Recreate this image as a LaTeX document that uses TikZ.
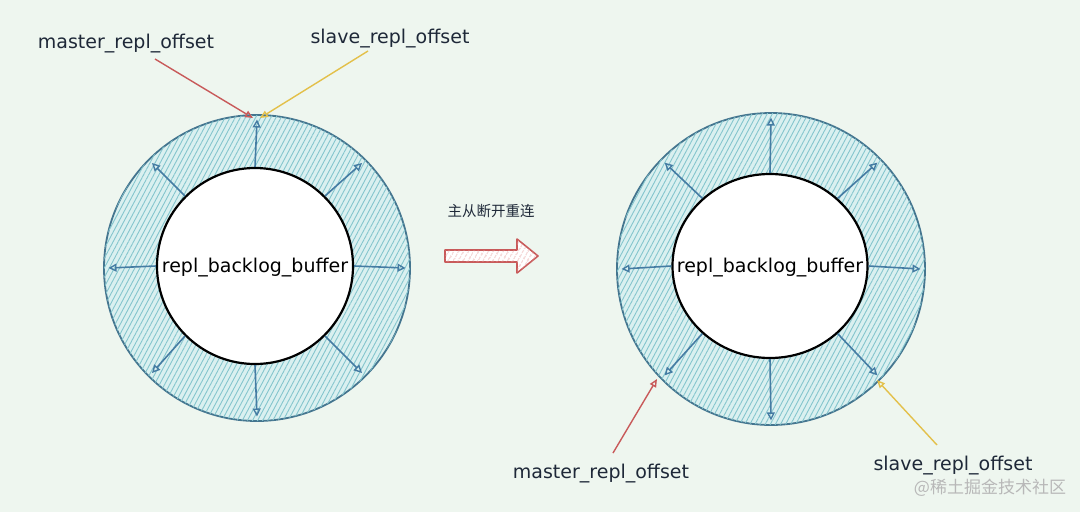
\documentclass[tikz,border=0pt]{standalone}
\usepackage{fontspec}
\setmainfont{DejaVu Sans}
\newfontfamily\cjk{Noto Sans CJK SC}
\usetikzlibrary{arrows.meta,patterns.meta,shapes.geometric,calc}
\definecolor{bg}{HTML}{EEF6EF}
\definecolor{ringbg}{HTML}{DAF0F0}
\definecolor{hatchc}{HTML}{84C5CD}
\definecolor{ringc}{HTML}{44758F}
\definecolor{barrc}{HTML}{457CA3}
\definecolor{txtc}{HTML}{1E2838}
\definecolor{redc}{HTML}{C85A5A}
\definecolor{yelc}{HTML}{E3C04A}
\definecolor{pinkh}{HTML}{E89A9A}
\definecolor{wmc}{HTML}{B8B8B8}
\begin{document}
\begin{tikzpicture}[x=1pt,y=-1pt,
  outring/.style={draw=ringc, line width=1.8pt, fill=ringbg, inner sep=0pt,
     postaction={pattern={Lines[angle=62,distance=4.5pt,line width=0.9pt]}, pattern color=hatchc}},
  inring/.style={draw=black, line width=2.2pt, fill=white, inner sep=0pt},
  barr/.style={draw=barrc, line width=1.6pt, -{Triangle[open,length=8pt,width=8pt,line width=1.4pt]}},
  redarr/.style={draw=redc, line width=1.4pt, -{Triangle[open,length=8pt,width=7pt]}},
  yelarr/.style={draw=yelc, line width=1.4pt, -{Triangle[open,length=8pt,width=7pt]}},
  lbl/.style={text=txtc, font=\fontsize{19}{22}\selectfont, inner sep=0pt},
  mid/.style={text=black, font=\fontsize{19}{22}\selectfont, inner sep=0pt},
  bigarr/.style={draw=redc, line width=1.6pt, line join=round, fill=white,
     postaction={pattern={Lines[angle=60,distance=4pt,line width=0.9pt]}, pattern color=pinkh}},
]
\fill[bg] (0,0) rectangle (1080,512);
\useasboundingbox (0,0) rectangle (1080,512);

% left ring
\node[outring, circle, minimum size=306pt] (outL) at (257,268) {};
\node[inring, circle, minimum size=196pt] (inL) at (255,266) {};
\node[mid] (tL) at (255,268) {repl\_backlog\_buffer};
\foreach \a in {0,45,...,315}{
  \coordinate (eL\a) at ($(outL.center)!0.965!(outL.\a)$);
  \draw[barr] (inL.\a) -- (eL\a);
}

% right ring
\node[outring, ellipse, minimum width=308pt, minimum height=312pt] (outR) at (771,269) {};
\node[inring, ellipse, minimum width=195pt, minimum height=184pt] (inR) at (770,266) {};
\node[mid] (tR) at (770,268) {repl\_backlog\_buffer};
\foreach \a in {0,45,...,315}{
  \coordinate (eR\a) at ($(outR.center)!0.965!(outR.\a)$);
  \draw[barr] (inR.\a) -- (eR\a);
}

% top labels and pointers
\node[lbl] (mTop) at (126,44) {master\_repl\_offset};
\node[lbl] (sTop) at (390,39) {slave\_repl\_offset};
\coordinate (mTs) at (155,59);
\coordinate (sTs) at (368,51);
\coordinate (mTe) at (253,118);
\coordinate (sTe) at (260,118);
\draw[redarr] (mTs) -- (mTe);
\draw[yelarr] (sTs) -- (sTe);

% transition arrow
\node[text=txtc, font=\cjk\fontsize{14.5}{17}\selectfont, inner sep=0pt] (cn) at (491,211) {主从断开重连};
\draw[bigarr] (445,250) -- (517,250) -- (517,239) -- (538,256) -- (517,273) -- (517,262) -- (445,262) -- cycle;

% bottom labels and pointers
\node[lbl] (mBot) at (601,474) {master\_repl\_offset};
\node[lbl] (sBot) at (953,466) {slave\_repl\_offset};
\coordinate (mBs) at (613,453);
\coordinate (mBe) at (657,379);
\coordinate (sBs) at (937,445);
\coordinate (sBe) at (877,380);
\draw[redarr] (mBs) -- (mBe);
\draw[yelarr] (sBs) -- (sBe);

% watermark
\node[text=wmc, font=\cjk\fontsize{17}{20}\selectfont, inner sep=0pt] (wm) at (990,488) {@稀土掘金技术社区};
\end{tikzpicture}
\end{document}
